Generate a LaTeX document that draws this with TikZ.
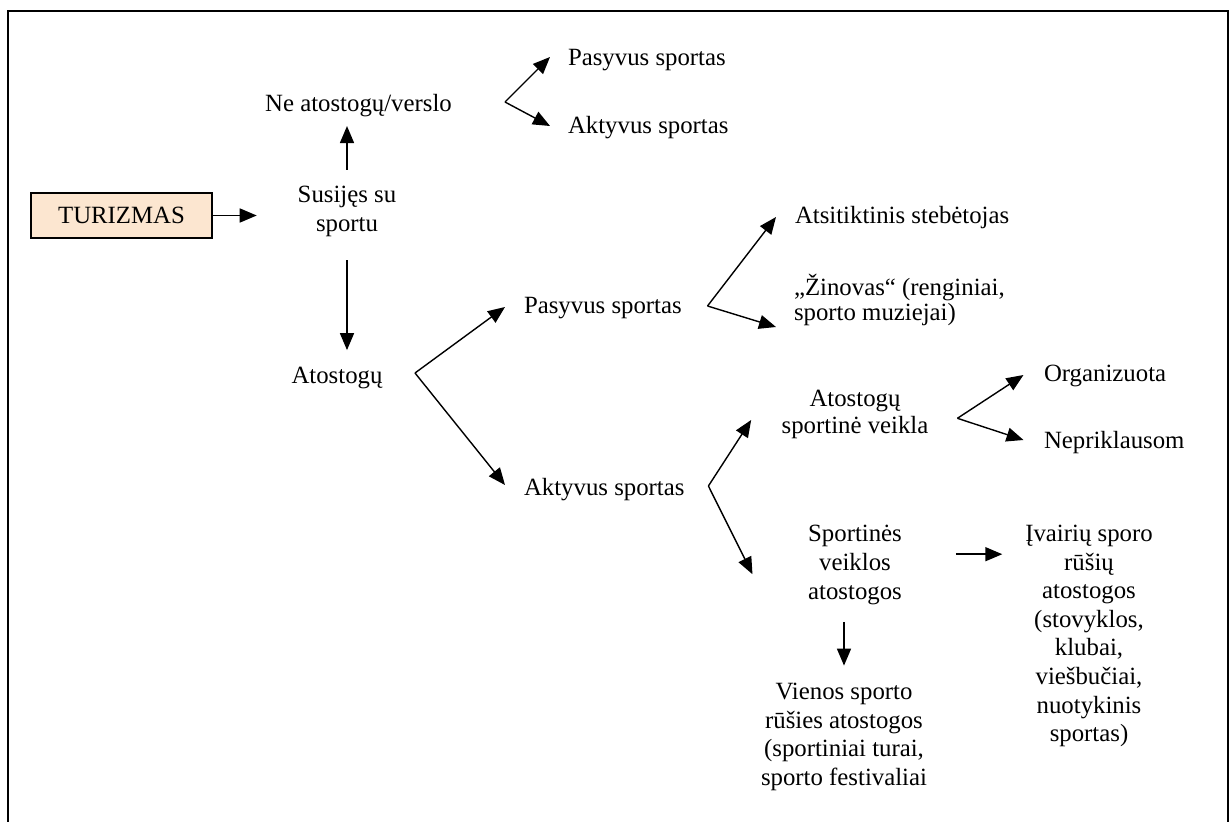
\documentclass[tikz,border=0pt]{standalone}
\usepackage{fontspec}
\setmainfont{Liberation Serif}
\usetikzlibrary{arrows.meta}
\definecolor{peach}{RGB}{252,230,208}
\begin{document}
\begin{tikzpicture}[x=1pt,y=-1pt,
  font=\fontsize{24.8pt}{29pt}\selectfont,
  lbl/.style={inner sep=0pt, outer sep=0pt},
  ctr/.style={lbl, align=center},
  lft/.style={lbl, align=left},
  arr/.style={line width=1.6pt, -{Triangle[length=17pt,width=14pt]}},
  fork/.style={line width=1.4pt, -{Triangle[length=17pt,width=14pt]}},
  frame/.style={line width=2.2pt},
  mainbox/.style={lbl, draw, line width=1.6pt, fill=peach,
    minimum width=181pt, minimum height=45pt}]
\useasboundingbox (0,0) rectangle (1230,821);

% open frame (runs off the bottom of the page)
\draw[frame] (8,830) -- (8,11) -- (1228,11) -- (1228,830);

% nodes
\node[mainbox] (tur) at (121.5,215.5) {TURIZMAS};
\node[ctr, anchor=south] (sus) at (347,239.7) {\strut Susijęs su\\\strut sportu};
\node[lbl, anchor=base] (ne) at (358.5,111.7) {Ne atostogų/verslo};
\node[lbl, anchor=base] (ato) at (337,383) {Atostogų};

\node[lbl, anchor=base west] (pas1) at (568,66) {Pasyvus sportas};
\node[lbl, anchor=base west] (akt1) at (568,134) {Aktyvus sportas};

\node[lbl, anchor=base west] (pas2) at (524,313) {Pasyvus sportas};
\node[lbl, anchor=base west] (akt2) at (524,495) {Aktyvus sportas};

\node[lbl, anchor=base west] (ats) at (795,223) {Atsitiktinis stebėtojas};
\node[lft, anchor=south west, font=\fontsize{24.8pt}{25pt}\selectfont] (zin) at (794,327.5)
  {\strut „Žinovas“ (renginiai,\\\strut sporto muziejai)};

\node[ctr, anchor=south, font=\fontsize{24.8pt}{26.5pt}\selectfont] (asv) at (855,441.3)
  {\strut Atostogų\\\strut sportinė veikla};
\node[lbl, anchor=base west] (org) at (1044,381.7) {Organizuota};
\node[lbl, anchor=base west] (nep) at (1044,448) {Nepriklausom};

\node[ctr, anchor=south, font=\fontsize{24.8pt}{28.6pt}\selectfont] (sva) at (855,607.6)
  {\strut Sportinės\\\strut veiklos\\\strut atostogos};
\node[ctr, anchor=south, font=\fontsize{24.8pt}{28.6pt}\selectfont] (iva) at (1089,750.3)
  {\strut Įvairių sporo\\\strut rūšių\\\strut atostogos\\\strut (stovyklos,\\\strut klubai,\\\strut viešbučiai,\\\strut nuotykinis\\\strut sportas)};
\node[ctr, anchor=south, font=\fontsize{24.8pt}{28.5pt}\selectfont] (vie) at (844,793.6)
  {\strut Vienos sporto\\\strut rūšies atostogos\\\strut (sportiniai turai,\\\strut sporto festivaliai};

% straight connectors
\draw[arr, shorten >=41pt] (tur.east) -- (tur.east -| sus.west);
\draw[arr, shorten <=11.7pt, shorten >=9pt] (sus.north) -- (sus.north |- ne.south);
\draw[arr, shorten <=20.3pt, shorten >=16.5pt] (sus.south) -- (sus.south |- ato.north);
\draw[arr, shorten <=14.3pt, shorten >=14pt] (vie.north |- sva.south) -- (vie.north);
\draw[arr, shorten <=54pt, shorten >=23pt] ([yshift=10.5pt]sva.east) -- ([yshift=10.5pt]sva.east -| iva.west);

% forks
\coordinate (f1) at (505,102);
\draw[fork] (f1) -- ([shift={(-18,-9)}]pas1.base west);
\draw[fork] (f1) -- ([shift={(-18,-8)}]akt1.base west);

\coordinate (f2) at (415,373);
\draw[fork] (f2) -- ([shift={(-19,-6)}]pas2.base west);
\draw[fork] (f2) -- ([shift={(-19,-10)}]akt2.base west);

\coordinate (f3) at (707.5,306);
\draw[fork] (f3) -- ([shift={(-19,-6)}]ats.base west);
\draw[fork] (f3) -- ([shift={(-18,-0.5)}]zin.south west);

\coordinate (f4) at (708.4,486);
\draw[fork] (f4) -- ([shift={(-30.5,-21.3)}]asv.south west);
\draw[fork] (f4) -- ([shift={(-55.7,9.5)}]sva.west);

\coordinate (f5) at (957.4,418.3);
\draw[fork] (f5) -- ([shift={(-20.5,-6.7)}]org.base west);
\draw[fork] (f5) -- ([shift={(-20.5,-8)}]nep.base west);
\end{tikzpicture}
\end{document}
